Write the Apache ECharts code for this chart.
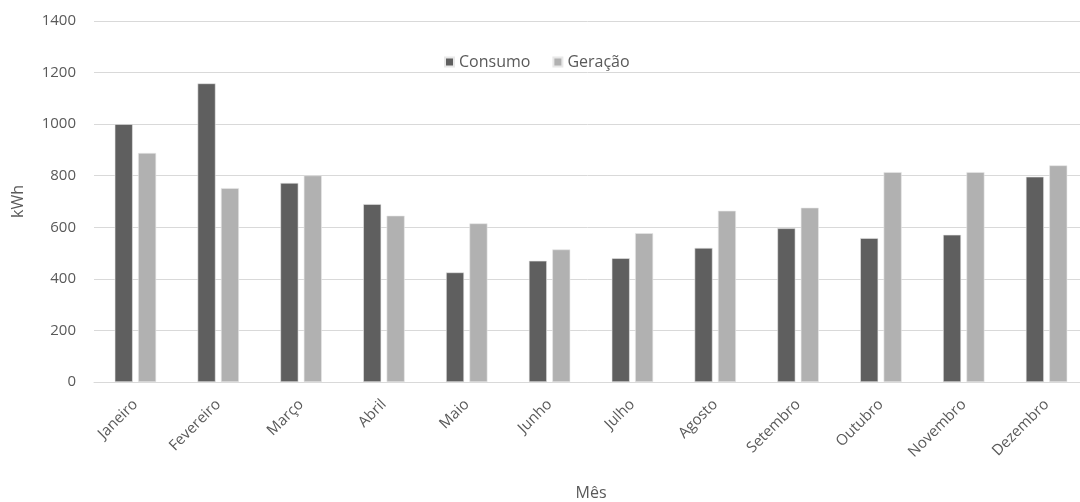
<!DOCTYPE html>
<html>
<head>
<meta charset="utf-8">
<script src="https://cdn.jsdelivr.net/npm/echarts@6/dist/echarts.min.js"></script>
<style>
  html, body { margin: 0; padding: 0; background: #fff; }
  #chart { width: 1080px; height: 502px; }
</style>
</head>
<body>
<div id="chart"></div>
<script>
// Monthly energy: consumption vs. generation (kWh)
const meses = ['Janeiro', 'Fevereiro', 'Março', 'Abril', 'Maio', 'Junho',
  'Julho', 'Agosto', 'Setembro', 'Outubro', 'Novembro', 'Dezembro'];
const consumo = [1000, 1158, 772, 690, 425, 470, 480, 520, 596, 558, 571, 796];
const geracao = [888, 752, 801, 645, 615, 514, 577, 664, 676, 814, 814, 840];
const yTicks = { min: 0, max: 1400, interval: 200 };

const textColor = '#595959';
const font = '"Open Sans", "Noto Sans", sans-serif';
const fontSize = 15;

const chart = echarts.init(document.getElementById('chart'), null, { renderer: 'canvas' });
chart.setOption({
  animation: false,
  textStyle: { fontFamily: font, color: textColor },
  grid: {
    left: 94, right: -8, top: 21, bottom: 120,
    containLabel: false,
    outerBoundsMode: 'none'
  },
  legend: {
    top: 49,
    left: 439,
    itemWidth: 9,
    itemHeight: 9,
    itemGap: 22,
    icon: 'rect',
    textStyle: { fontFamily: font, fontSize: 16, color: textColor },
    data: ['Consumo', 'Geração']
  },
  xAxis: {
    type: 'category',
    data: meses,
    name: 'Mês',
    nameLocation: 'middle',
    nameGap: 103,
    nameTextStyle: { fontFamily: font, fontSize: 16, color: textColor },
    axisLine: { lineStyle: { color: '#d9d9d9', width: 1 } },
    axisTick: { show: false },
    axisLabel: {
      rotate: 45,
      margin: 20,
      fontFamily: font,
      fontSize: fontSize,
      color: textColor,
      interval: 0
    }
  },
  yAxis: {
    type: 'value',
    min: yTicks.min,
    max: yTicks.max,
    interval: yTicks.interval,
    name: 'kWh',
    nameLocation: 'middle',
    nameGap: 68,
    nameRotate: 90,
    nameTextStyle: { fontFamily: font, fontSize: 16, color: textColor },
    axisLine: { show: false },
    axisTick: { show: false },
    axisLabel: {
      margin: 18,
      fontFamily: font,
      fontSize: fontSize,
      color: textColor,
      formatter: (v) => String(v)
    },
    splitLine: { lineStyle: { color: '#d9d9d9', width: 1 } }
  },
  series: [
    {
      name: 'Consumo',
      type: 'bar',
      data: consumo,
      barWidth: 18,
      barGap: '30%',
      itemStyle: { color: '#5f5f5f', borderColor: '#e8e8e8', borderWidth: 0.6 }
    },
    {
      name: 'Geração',
      type: 'bar',
      data: geracao,
      barWidth: 18,
      barGap: '30%',
      itemStyle: { color: '#b1b1b1', borderColor: '#e8e8e8', borderWidth: 0.6 }
    }
  ]
});
</script>
</body>
</html>
